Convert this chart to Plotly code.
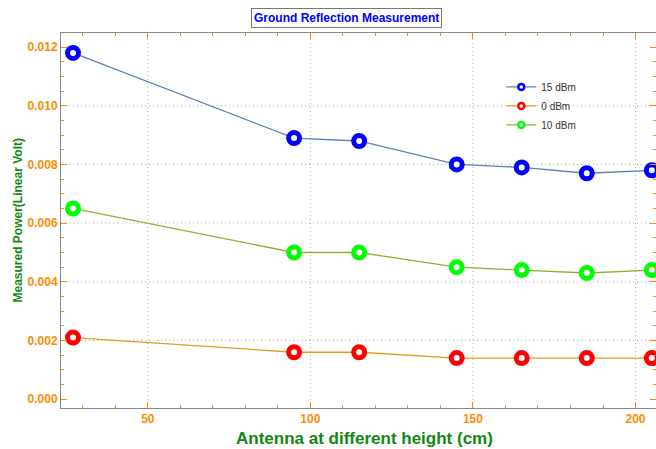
import plotly.graph_objects as go

heights = [27, 95, 115, 145, 165, 185, 205]
power_15dbm = [0.0118, 0.0089, 0.0088, 0.0080, 0.0079, 0.0077, 0.0078]
power_0dbm = [0.0021, 0.0016, 0.0016, 0.0014, 0.0014, 0.0014, 0.0014]
power_10dbm = [0.0065, 0.0050, 0.0050, 0.0045, 0.0044, 0.0043, 0.0044]

x_ticks = [50, 100, 150, 200]
y_ticks = [0, 0.002, 0.004, 0.006, 0.008, 0.010, 0.012]
y_grid = [0.002, 0.004, 0.006, 0.008, 0.010]

series = [
    ("15 dBm", power_15dbm, "#5E81B5", "#0000FF"),
    ("0 dBm", power_0dbm, "#E19C24", "#FF0000"),
    ("10 dBm", power_10dbm, "#8FB032", "#00FF00"),
]

fig = go.Figure()

# dotted grid lines
grid_style = dict(color="#B0B0B0", width=1, dash="1px,3px")
for gx in x_ticks:
    fig.add_shape(type="line", xref="x", yref="paper", x0=gx, x1=gx, y0=0, y1=1,
                  line=grid_style, layer="below")
for gy in y_grid:
    fig.add_shape(type="line", xref="paper", yref="y", x0=0, x1=1, y0=gy, y1=gy,
                  line=grid_style, layer="below")

for name, vals, line_col, mark_col in series:
    fig.add_trace(go.Scatter(
        x=heights, y=vals, mode="lines+markers", name=name, showlegend=False,
        line=dict(color=line_col, width=1.3),
        marker=dict(symbol="circle", size=11, color="white",
                    line=dict(color=mark_col, width=5)),
        cliponaxis=False,
    ))
    # small legend entry
    fig.add_trace(go.Scatter(
        x=[None], y=[None], mode="lines+markers", name=name,
        line=dict(color=line_col, width=1.3),
        marker=dict(symbol="circle", size=6, color="white",
                    line=dict(color=mark_col, width=2.5)),
    ))

tick_font = dict(family="Liberation Sans, Arial", size=12, color="#FF8C00", weight="bold")
title_font = dict(family="Liberation Sans, Arial", color="#118811")

fig.update_layout(
    width=656, height=449,
    margin=dict(l=61, r=0, t=33, b=41),
    plot_bgcolor="white", paper_bgcolor="white",
    font=dict(family="Liberation Sans, Arial"),
    legend=dict(x=0.74, y=0.895, xanchor="left", yanchor="top",
                bgcolor="rgba(0,0,0,0)", font=dict(size=10, color="#333333"),
                itemwidth=30, tracegroupgap=0),
    annotations=[
        dict(text="<b>Ground Reflection Measurement</b>", x=0.48, y=1.0,
             xref="paper", yref="paper", xanchor="center", yanchor="bottom",
             yshift=5, showarrow=False, bgcolor="white", bordercolor="#777777",
             borderwidth=1, borderpad=2,
             font=dict(size=12, color="#0000FF", family="Liberation Sans, Arial")),
        dict(text="<b>Antenna at different height (cm)</b>", x=0.51, y=0,
             xref="paper", yref="paper", xanchor="center", yanchor="top",
             yshift=-19, showarrow=False, font=dict(size=17, **title_font)),
        dict(text="<b>Measured Power(Linear Volt)</b>", x=0, y=0.5,
             xref="paper", yref="paper", xanchor="center", yanchor="middle",
             xshift=-44, textangle=-90, showarrow=False,
             font=dict(size=12, **title_font)),
    ],
)

fig.update_xaxes(
    range=[23.3, 206.3], tickvals=x_ticks, automargin=False,
    showline=True, linecolor="#888888", linewidth=1, mirror="ticks",
    ticks="inside", ticklen=6, tickcolor="#FF8C00",
    minor=dict(dtick=10, ticks="inside", ticklen=3, tickcolor="#FF8C00", showgrid=False),
    showgrid=False, zeroline=False, tickfont=tick_font,
)
fig.update_yaxes(
    range=[-0.0003, 0.01248], tickvals=y_ticks,
    tickformat=".3f", automargin=False,
    showline=True, linecolor="#888888", linewidth=1, mirror="ticks",
    ticks="inside", ticklen=6, tickcolor="#FF8C00",
    minor=dict(dtick=0.0005, ticks="inside", ticklen=3, tickcolor="#FF8C00", showgrid=False),
    showgrid=False, zeroline=False, tickfont=tick_font,
)

# drop the page's default body margin so the figure sits at the window's corner
fig.write_html("out.html", config={"displayModeBar": False},
               post_script="document.body.style.margin='0';")
